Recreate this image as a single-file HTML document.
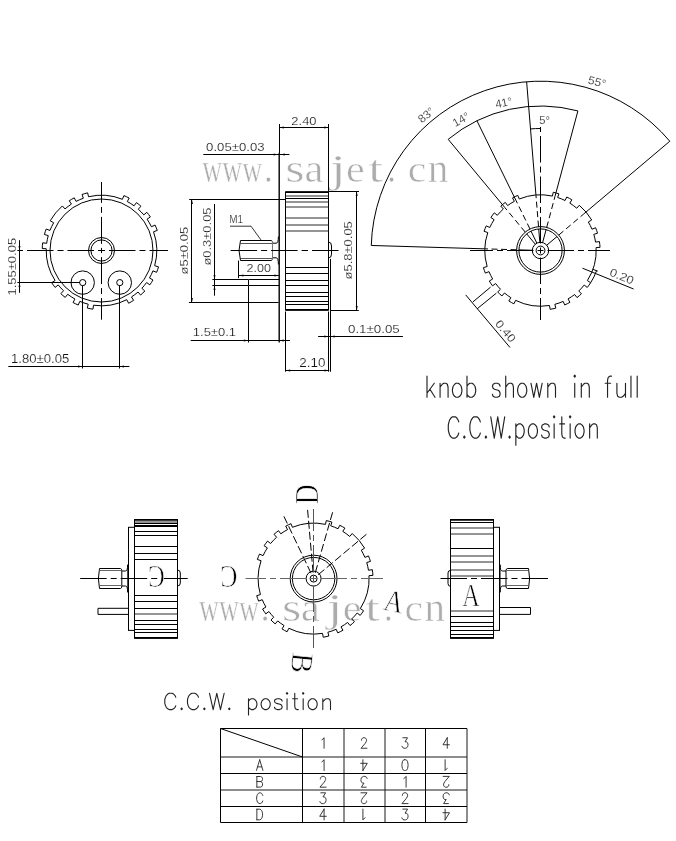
<!DOCTYPE html>
<html><head><meta charset="utf-8"><style>
html,body{margin:0;padding:0;background:#fff;}
svg{display:block;filter:grayscale(100%);}
</style></head><body>
<svg width="676" height="841" viewBox="0 0 676 841">
<rect width="676" height="841" fill="#fff"/>
<text transform="translate(202.30,181.60) scale(0.712,1)" x="0" y="0" font-family="Liberation Serif, serif" font-size="39" fill="#acacac" stroke="#fff" stroke-width="0.55">w</text>
<text transform="translate(222.30,181.60) scale(0.712,1)" x="0" y="0" font-family="Liberation Serif, serif" font-size="39" fill="#acacac" stroke="#fff" stroke-width="0.55">w</text>
<text transform="translate(242.30,181.60) scale(0.709,1)" x="0" y="0" font-family="Liberation Serif, serif" font-size="39" fill="#acacac" stroke="#fff" stroke-width="0.55">w</text>
<text transform="translate(263.82,181.60) scale(0.940,1)" x="0" y="0" font-family="Liberation Serif, serif" font-size="39" fill="#acacac" stroke="#fff" stroke-width="0.55">.</text>
<text transform="translate(285.22,181.60) scale(1.270,1)" x="0" y="0" font-family="Liberation Serif, serif" font-size="39" fill="#acacac" stroke="#fff" stroke-width="0.55">s</text>
<text transform="translate(304.41,181.60) scale(1.091,1)" x="0" y="0" font-family="Liberation Serif, serif" font-size="39" fill="#acacac" stroke="#fff" stroke-width="0.55">a</text>
<text transform="translate(330.05,181.60) scale(1.492,1)" x="0" y="0" font-family="Liberation Serif, serif" font-size="39" fill="#acacac" stroke="#fff" stroke-width="0.55">j</text>
<text transform="translate(346.01,181.60) scale(1.081,1)" x="0" y="0" font-family="Liberation Serif, serif" font-size="39" fill="#acacac" stroke="#fff" stroke-width="0.55">e</text>
<text transform="translate(368.27,181.60) scale(1.371,1)" x="0" y="0" font-family="Liberation Serif, serif" font-size="39" fill="#acacac" stroke="#fff" stroke-width="0.55">t</text>
<text transform="translate(387.02,181.60) scale(0.940,1)" x="0" y="0" font-family="Liberation Serif, serif" font-size="39" fill="#acacac" stroke="#fff" stroke-width="0.55">.</text>
<text transform="translate(407.74,181.60) scale(1.067,1)" x="0" y="0" font-family="Liberation Serif, serif" font-size="39" fill="#acacac" stroke="#fff" stroke-width="0.55">c</text>
<text transform="translate(427.77,181.60) scale(1.054,1)" x="0" y="0" font-family="Liberation Serif, serif" font-size="39" fill="#acacac" stroke="#fff" stroke-width="0.55">n</text>
<text transform="translate(199.00,620.50) scale(0.712,1)" x="0" y="0" font-family="Liberation Serif, serif" font-size="39" fill="#acacac" stroke="#fff" stroke-width="0.55">w</text>
<text transform="translate(219.00,620.50) scale(0.712,1)" x="0" y="0" font-family="Liberation Serif, serif" font-size="39" fill="#acacac" stroke="#fff" stroke-width="0.55">w</text>
<text transform="translate(239.00,620.50) scale(0.709,1)" x="0" y="0" font-family="Liberation Serif, serif" font-size="39" fill="#acacac" stroke="#fff" stroke-width="0.55">w</text>
<text transform="translate(260.52,620.50) scale(0.940,1)" x="0" y="0" font-family="Liberation Serif, serif" font-size="39" fill="#acacac" stroke="#fff" stroke-width="0.55">.</text>
<text transform="translate(281.92,620.50) scale(1.270,1)" x="0" y="0" font-family="Liberation Serif, serif" font-size="39" fill="#acacac" stroke="#fff" stroke-width="0.55">s</text>
<text transform="translate(301.11,620.50) scale(1.091,1)" x="0" y="0" font-family="Liberation Serif, serif" font-size="39" fill="#acacac" stroke="#fff" stroke-width="0.55">a</text>
<text transform="translate(326.75,620.50) scale(1.492,1)" x="0" y="0" font-family="Liberation Serif, serif" font-size="39" fill="#acacac" stroke="#fff" stroke-width="0.55">j</text>
<text transform="translate(342.71,620.50) scale(1.081,1)" x="0" y="0" font-family="Liberation Serif, serif" font-size="39" fill="#acacac" stroke="#fff" stroke-width="0.55">e</text>
<text transform="translate(364.97,620.50) scale(1.371,1)" x="0" y="0" font-family="Liberation Serif, serif" font-size="39" fill="#acacac" stroke="#fff" stroke-width="0.55">t</text>
<text transform="translate(383.72,620.50) scale(0.940,1)" x="0" y="0" font-family="Liberation Serif, serif" font-size="39" fill="#acacac" stroke="#fff" stroke-width="0.55">.</text>
<text transform="translate(404.44,620.50) scale(1.067,1)" x="0" y="0" font-family="Liberation Serif, serif" font-size="39" fill="#acacac" stroke="#fff" stroke-width="0.55">c</text>
<text transform="translate(424.47,620.50) scale(1.054,1)" x="0" y="0" font-family="Liberation Serif, serif" font-size="39" fill="#acacac" stroke="#fff" stroke-width="0.55">n</text>
<path d="M154.66,265.74 L158.50,266.85 A59.30,59.30 0 0 1 156.64,272.33 L152.92,270.86 A55.30,55.30 0 0 1 149.49,277.98 L152.96,279.97 A59.30,59.30 0 0 1 149.84,284.85 L146.58,282.53 A55.30,55.30 0 0 1 141.88,288.29 L144.80,291.02 A59.30,59.30 0 0 1 140.64,295.05 L138.00,292.04 A55.30,55.30 0 0 1 131.46,296.98 L133.62,300.35 A59.30,59.30 0 0 1 128.61,303.24 L126.78,299.68 A55.30,55.30 0 0 1 93.52,305.22 L92.94,309.18 A59.30,59.30 0 0 1 87.25,308.06 L88.22,304.18 A55.30,55.30 0 0 1 79.80,301.37 L78.23,305.05 A59.30,59.30 0 0 1 73.02,302.51 L74.94,299.01 A55.30,55.30 0 0 1 67.68,294.25 L65.24,297.42 A59.30,59.30 0 0 1 60.83,293.66 L63.57,290.75 A55.30,55.30 0 0 1 58.22,284.93 L55.09,287.42 A59.30,59.30 0 0 1 51.71,282.71 L55.07,280.54 A55.30,55.30 0 0 1 46.23,248.71 L42.23,248.59 A59.30,59.30 0 0 1 42.70,242.81 L46.67,243.33 A55.30,55.30 0 0 1 48.25,235.58 L44.40,234.50 A59.30,59.30 0 0 1 46.23,229.01 L49.96,230.46 A55.30,55.30 0 0 1 53.66,222.77 L50.20,220.76 A59.30,59.30 0 0 1 62.36,205.95 L65.00,208.96 A55.30,55.30 0 0 1 71.42,204.10 L69.25,200.74 A59.30,59.30 0 0 1 74.26,197.83 L76.09,201.38 A55.30,55.30 0 0 1 83.36,198.26 L82.05,194.48 A59.30,59.30 0 0 1 87.61,192.85 L88.54,196.74 A55.30,55.30 0 0 1 122.39,199.30 L123.91,195.60 A59.30,59.30 0 0 1 129.16,198.04 L127.29,201.58 A55.30,55.30 0 0 1 134.08,205.82 L136.44,202.59 A59.30,59.30 0 0 1 140.95,206.22 L138.29,209.21 A55.30,55.30 0 0 1 143.80,214.88 L146.86,212.30 A59.30,59.30 0 0 1 150.37,216.91 L147.07,219.18 A55.30,55.30 0 0 1 151.45,226.78 L155.07,225.06 A59.30,59.30 0 0 1 157.29,230.41 L153.53,231.77 A55.30,55.30 0 0 1 154.66,265.74" fill="none" stroke="#000" stroke-width="1" stroke-linejoin="miter"/>
<circle cx="101.50" cy="250.50" r="51.50" fill="none" stroke="#000" stroke-width="1" />
<circle cx="101.50" cy="250.50" r="13.00" fill="none" stroke="#000" stroke-width="1" />
<circle cx="101.50" cy="250.50" r="10.60" fill="none" stroke="#000" stroke-width="1" />
<circle cx="82.70" cy="282.60" r="11.70" fill="none" stroke="#000" stroke-width="1" />
<circle cx="82.70" cy="282.60" r="3.10" fill="none" stroke="#000" stroke-width="1" />
<circle cx="119.80" cy="282.60" r="11.70" fill="none" stroke="#000" stroke-width="1" />
<circle cx="119.80" cy="282.60" r="3.10" fill="none" stroke="#000" stroke-width="1" />
<path d="M98.00,250.50 L105.00,250.50 M109.00,250.50 L135.50,250.50 M139.50,250.50 L145.50,250.50 M149.50,250.50 L168.00,250.50 M67.50,250.50 L94.00,250.50 M57.50,250.50 L63.50,250.50 M27.00,250.50 L53.50,250.50 M17.40,250.50 L23.00,250.50" fill="none" stroke="#000" stroke-width="1"/>
<path d="M101.50,247.90 L101.50,253.10 M101.50,257.10 L101.50,284.10 M101.50,288.10 L101.50,294.10 M101.50,298.10 L101.50,319.70 M101.50,216.90 L101.50,243.90 M101.50,206.90 L101.50,212.90 M101.50,182.00 L101.50,202.90" fill="none" stroke="#000" stroke-width="1"/>
<line x1="17.40" y1="282.50" x2="80.00" y2="282.50" stroke="#000" stroke-width="1" />
<line x1="82.50" y1="285.50" x2="82.50" y2="368.50" stroke="#000" stroke-width="1" />
<line x1="119.50" y1="285.50" x2="119.50" y2="368.50" stroke="#000" stroke-width="1" />
<line x1="19.50" y1="240.20" x2="19.50" y2="292.80" stroke="#000" stroke-width="1" />
<text transform="translate(16.10,294.60) rotate(-90)" x="-0.97" y="0" font-family="Liberation Sans, sans-serif" font-size="11.71" fill="#111" stroke="#fff" stroke-width="0.18" textLength="57.71" lengthAdjust="spacingAndGlyphs">1.55±0.05</text>
<line x1="8.30" y1="366.50" x2="129.40" y2="366.50" stroke="#000" stroke-width="1" />
<text transform="translate(12.00,362.50) rotate(0)" x="-0.98" y="0" font-family="Liberation Sans, sans-serif" font-size="11.86" fill="#111" stroke="#fff" stroke-width="0.18" textLength="58.23" lengthAdjust="spacingAndGlyphs">1.80±0.05</text>
<line x1="279.20" y1="152.70" x2="279.20" y2="342.50" stroke="#000" stroke-width="1.4" />
<rect x="285.5" y="192" width="43" height="118" fill="none" stroke="#000" stroke-width="1"/>
<line x1="285.50" y1="192.20" x2="328.50" y2="192.20" stroke="#000" stroke-width="1.8" />
<line x1="285.50" y1="309.80" x2="328.50" y2="309.80" stroke="#000" stroke-width="1.8" />
<line x1="285.50" y1="196" x2="328.50" y2="196" stroke="#2a2a2a" stroke-width="1"/>
<line x1="285.50" y1="198.50" x2="328.50" y2="198.50" stroke="#000" stroke-width="1" />
<line x1="285.50" y1="202" x2="328.50" y2="202" stroke="#2a2a2a" stroke-width="1"/>
<line x1="285.50" y1="207" x2="328.50" y2="207" stroke="#2a2a2a" stroke-width="1"/>
<line x1="285.50" y1="218" x2="328.50" y2="218" stroke="#2a2a2a" stroke-width="1"/>
<line x1="285.50" y1="225" x2="328.50" y2="225" stroke="#2a2a2a" stroke-width="1"/>
<line x1="285.50" y1="231" x2="328.50" y2="231" stroke="#2a2a2a" stroke-width="1"/>
<line x1="285.50" y1="267.50" x2="328.50" y2="267.50" stroke="#000" stroke-width="1" />
<line x1="285.50" y1="273.50" x2="328.50" y2="273.50" stroke="#000" stroke-width="1" />
<line x1="285.50" y1="280.50" x2="328.50" y2="280.50" stroke="#000" stroke-width="1" />
<line x1="285.50" y1="285.50" x2="328.50" y2="285.50" stroke="#000" stroke-width="1" />
<line x1="285.50" y1="292.50" x2="328.50" y2="292.50" stroke="#000" stroke-width="1" />
<line x1="285.50" y1="296.50" x2="328.50" y2="296.50" stroke="#000" stroke-width="1" />
<line x1="285.50" y1="301.50" x2="328.50" y2="301.50" stroke="#000" stroke-width="1" />
<line x1="285.50" y1="304.50" x2="328.50" y2="304.50" stroke="#000" stroke-width="1" />
<path d="M328.5,242 Q331.5,242 331.5,246 L331.5,254 Q331.5,258 328.5,258" fill="none" stroke="#000" stroke-width="1"/>
<path d="M240.5,240.5 L271.3,240.5 Q272.6,240.5 272.6,243.2 M240.5,260.5 L271.3,260.5 Q272.6,260.5 272.6,257.8" fill="none" stroke="#000" stroke-width="1"/>
<line x1="240.50" y1="243.50" x2="273.00" y2="243.50" stroke="#555" stroke-width="1" />
<line x1="240.50" y1="258.50" x2="273.00" y2="258.50" stroke="#555" stroke-width="1" />
<path d="M240.5,240.5 Q237.5,250.5 240.5,260.5" fill="none" stroke="#000" stroke-width="1"/>
<path d="M272.5,243.2 L276.2,243.2 Q278.4,243.2 278.4,236.5 M272.5,257.8 L276.2,257.8 Q278.4,257.8 278.4,264.5" fill="none" stroke="#000" stroke-width="1"/>
<line x1="272.50" y1="241.00" x2="272.50" y2="260.00" stroke="#777" stroke-width="1" />
<path d="M279,279.5 L248.5,279.5 L248.5,285.5 L279,285.5" fill="none" stroke="#000" stroke-width="1"/>
<path d="M301.60,250.50 L308.00,250.50 M312.00,250.50 L338.50,250.50 M271.10,250.50 L297.60,250.50 M261.10,250.50 L267.10,250.50 M230.60,250.50 L257.10,250.50" fill="none" stroke="#000" stroke-width="1"/>
<line x1="279.50" y1="124.00" x2="279.50" y2="153.00" stroke="#000" stroke-width="1" />
<line x1="328.50" y1="124.00" x2="328.50" y2="191.50" stroke="#000" stroke-width="1" />
<line x1="279.40" y1="127.50" x2="328.70" y2="127.50" stroke="#000" stroke-width="1" />
<text transform="translate(292.00,125.00) rotate(0)" x="-0.65" y="0" font-family="Liberation Sans, sans-serif" font-size="11.14" fill="#111" stroke="#fff" stroke-width="0.18" textLength="25.18" lengthAdjust="spacingAndGlyphs">2.40</text>
<line x1="203.30" y1="154.50" x2="289.40" y2="154.50" stroke="#000" stroke-width="1" />
<text transform="translate(206.60,150.90) rotate(0)" x="-0.53" y="0" font-family="Liberation Sans, sans-serif" font-size="11.71" fill="#111" stroke="#fff" stroke-width="0.18" textLength="58.44" lengthAdjust="spacingAndGlyphs">0.05±0.03</text>
<line x1="189.20" y1="199.50" x2="285.00" y2="199.50" stroke="#000" stroke-width="1" />
<line x1="188.90" y1="302.50" x2="278.50" y2="302.50" stroke="#000" stroke-width="1" />
<line x1="191.50" y1="199.50" x2="191.50" y2="302.50" stroke="#000" stroke-width="1" />
<text transform="translate(188.20,274.20) rotate(-90)" x="-0.33" y="0" font-family="Liberation Sans, sans-serif" font-size="11.43" fill="#111" stroke="#fff" stroke-width="0.18" textLength="47.67" lengthAdjust="spacingAndGlyphs">ø5±0.05</text>
<line x1="212.40" y1="279.50" x2="248.00" y2="279.50" stroke="#000" stroke-width="1" />
<line x1="212.40" y1="285.50" x2="248.00" y2="285.50" stroke="#000" stroke-width="1" />
<line x1="214.50" y1="204.00" x2="214.50" y2="295.70" stroke="#000" stroke-width="1" />
<text transform="translate(211.20,265.30) rotate(-90)" x="-0.32" y="0" font-family="Liberation Sans, sans-serif" font-size="11.71" fill="#111" stroke="#fff" stroke-width="0.18" textLength="58.16" lengthAdjust="spacingAndGlyphs">ø0.3±0.05</text>
<text transform="translate(230.00,222.80) rotate(0)" x="-0.79" y="0" font-family="Liberation Sans, sans-serif" font-size="10.43" fill="#111" stroke="#fff" stroke-width="0.18" textLength="13.78" lengthAdjust="spacingAndGlyphs">M1</text>
<path d="M230,226.2 L251,226.2 L261,240" fill="none" stroke="#000" stroke-width="0.8"/>
<line x1="238.90" y1="275.50" x2="278.80" y2="275.50" stroke="#000" stroke-width="1" />
<line x1="238.50" y1="260.50" x2="238.50" y2="278.20" stroke="#000" stroke-width="1" />
<text transform="translate(247.20,272.10) rotate(0)" x="-0.63" y="0" font-family="Liberation Sans, sans-serif" font-size="11.00" fill="#111" stroke="#fff" stroke-width="0.18" textLength="24.45" lengthAdjust="spacingAndGlyphs">2.00</text>
<line x1="190.70" y1="340.50" x2="290.00" y2="340.50" stroke="#000" stroke-width="1" />
<line x1="248.50" y1="285.70" x2="248.50" y2="342.50" stroke="#000" stroke-width="1" />
<text transform="translate(193.80,336.30) rotate(0)" x="-0.97" y="0" font-family="Liberation Sans, sans-serif" font-size="11.43" fill="#111" stroke="#fff" stroke-width="0.18" textLength="43.21" lengthAdjust="spacingAndGlyphs">1.5±0.1</text>
<line x1="328.50" y1="191.50" x2="359.00" y2="191.50" stroke="#000" stroke-width="1" />
<line x1="330.50" y1="310.50" x2="358.80" y2="310.50" stroke="#000" stroke-width="1" />
<line x1="356.50" y1="191.50" x2="356.50" y2="310.00" stroke="#000" stroke-width="1" />
<text transform="translate(352.40,279.20) rotate(-90)" x="-0.32" y="0" font-family="Liberation Sans, sans-serif" font-size="11.57" fill="#111" stroke="#fff" stroke-width="0.18" textLength="58.36" lengthAdjust="spacingAndGlyphs">ø5.8±0.05</text>
<line x1="330.50" y1="258.90" x2="330.50" y2="371.70" stroke="#000" stroke-width="1" />
<line x1="318.10" y1="336.50" x2="402.90" y2="336.50" stroke="#000" stroke-width="1" />
<text transform="translate(348.50,332.90) rotate(0)" x="-0.53" y="0" font-family="Liberation Sans, sans-serif" font-size="11.57" fill="#111" stroke="#fff" stroke-width="0.18" textLength="51.77" lengthAdjust="spacingAndGlyphs">0.1±0.05</text>
<line x1="285.50" y1="311.50" x2="285.50" y2="371.70" stroke="#000" stroke-width="1" />
<line x1="328.50" y1="311.50" x2="328.50" y2="371.70" stroke="#000" stroke-width="1" />
<line x1="285.70" y1="370.50" x2="329.30" y2="370.50" stroke="#000" stroke-width="1" />
<text transform="translate(300.00,366.90) rotate(0)" x="-0.67" y="0" font-family="Liberation Sans, sans-serif" font-size="11.86" fill="#111" stroke="#fff" stroke-width="0.18" textLength="26.23" lengthAdjust="spacingAndGlyphs">2.10</text>
<path d="M587.37,280.59 L590.65,282.70 A59.60,59.60 0 0 1 587.27,287.44 L584.21,285.02 A55.70,55.70 0 0 1 578.77,290.97 L581.45,293.80 A59.60,59.60 0 0 1 577.03,297.59 L574.64,294.51 A55.70,55.70 0 0 1 568.01,298.93 L569.94,302.32 A59.60,59.60 0 0 1 564.74,304.95 L563.16,301.38 A55.70,55.70 0 0 1 554.82,304.33 L555.83,308.10 A59.60,59.60 0 0 1 550.13,309.32 L549.50,305.47 A55.70,55.70 0 0 1 515.65,300.35 L513.91,303.84 A59.60,59.60 0 0 1 508.83,300.99 L510.90,297.68 A55.70,55.70 0 0 1 504.47,292.98 L501.95,295.96 A59.60,59.60 0 0 1 497.70,291.98 L500.50,289.26 A55.70,55.70 0 0 1 495.67,283.55 L492.53,285.87 A59.60,59.60 0 0 1 489.31,281.02 L492.66,279.02 A55.70,55.70 0 0 1 488.97,271.64 L485.36,273.12 A59.60,59.60 0 0 1 483.41,267.63 L487.15,266.51 A55.70,55.70 0 0 1 487.77,232.55 L484.08,231.29 A59.60,59.60 0 0 1 486.22,225.88 L489.77,227.49 A55.70,55.70 0 0 1 494.11,219.68 L490.86,217.52 A59.60,59.60 0 0 1 494.31,212.83 L497.34,215.30 A55.70,55.70 0 0 1 503.37,208.98 L500.77,206.07 A59.60,59.60 0 0 1 505.30,202.41 L507.60,205.55 A55.70,55.70 0 0 1 514.35,201.32 L512.52,197.88 A59.60,59.60 0 0 1 517.79,195.40 L519.27,199.00 A55.70,55.70 0 0 1 552.41,196.09 L553.25,192.28 A59.60,59.60 0 0 1 558.87,193.80 L557.67,197.51 A55.70,55.70 0 0 1 565.05,200.50 L566.77,197.00 A59.60,59.60 0 0 1 571.86,199.82 L569.81,203.14 A55.70,55.70 0 0 1 576.75,208.21 L579.29,205.25 A59.60,59.60 0 0 1 591.69,219.98 L588.34,221.98 A55.70,55.70 0 0 1 591.98,229.23 L595.58,227.74 A59.60,59.60 0 0 1 597.54,233.22 L593.81,234.35 A55.70,55.70 0 0 1 595.57,242.12 L599.42,241.54 A59.60,59.60 0 0 1 600.02,247.33 L596.12,247.54 A55.70,55.70 0 0 1 587.37,280.59" fill="none" stroke="#000" stroke-width="1" stroke-linejoin="miter"/>
<path d="M596.58,270.69 A59.60,59.60 0 0 1 590.65,282.70" fill="none" stroke="#000" stroke-width="1"/>
<line x1="592.91" y1="269.37" x2="597.71" y2="271.10" stroke="#000" stroke-width="1" />
<circle cx="540.50" cy="250.50" r="23.90" fill="none" stroke="#000" stroke-width="1" />
<circle cx="540.50" cy="250.50" r="21.60" fill="none" stroke="#000" stroke-width="1" />
<circle cx="540.50" cy="250.50" r="8.20" fill="none" stroke="#000" stroke-width="1" />
<circle cx="540.50" cy="250.50" r="4.40" fill="none" stroke="#000" stroke-width="1" />
<path d="M371.27,245.48 A169.30,169.30 0 0 1 669.81,141.22" fill="none" stroke="#000" stroke-width="1"/>
<path d="M448.20,139.32 A144.50,144.50 0 0 1 577.90,110.92" fill="none" stroke="#000" stroke-width="1"/>
<path d="M530.50,128.91 A122.00,122.00 0 0 1 540.50,128.50" fill="none" stroke="#000" stroke-width="1"/>
<line x1="484.52" y1="248.84" x2="371.27" y2="245.48" stroke="#000" stroke-width="1" />
<line x1="516.51" y1="249.79" x2="484.52" y2="248.84" stroke="#000" stroke-width="1" stroke-dasharray="6 3.5"/>
<line x1="532.30" y1="250.26" x2="518.91" y2="249.86" stroke="#000" stroke-width="1" />
<line x1="535.91" y1="194.69" x2="526.63" y2="81.77" stroke="#000" stroke-width="1" />
<line x1="538.53" y1="226.58" x2="535.91" y2="194.69" stroke="#000" stroke-width="1" stroke-dasharray="6 3.5"/>
<line x1="539.83" y1="242.33" x2="538.73" y2="228.97" stroke="#000" stroke-width="1" />
<line x1="583.27" y1="214.35" x2="669.81" y2="141.22" stroke="#000" stroke-width="1" />
<line x1="558.83" y1="235.01" x2="583.27" y2="214.35" stroke="#000" stroke-width="1" stroke-dasharray="6 3.5"/>
<line x1="546.76" y1="245.21" x2="557.00" y2="236.56" stroke="#000" stroke-width="1" />
<line x1="504.73" y1="207.41" x2="448.20" y2="139.32" stroke="#000" stroke-width="1" />
<line x1="525.17" y1="232.03" x2="504.73" y2="207.41" stroke="#000" stroke-width="1" stroke-dasharray="6 3.5"/>
<line x1="535.26" y1="244.19" x2="526.70" y2="233.88" stroke="#000" stroke-width="1" />
<line x1="515.86" y1="200.21" x2="476.93" y2="120.74" stroke="#000" stroke-width="1" />
<line x1="529.94" y1="228.95" x2="515.86" y2="200.21" stroke="#000" stroke-width="1" stroke-dasharray="6 3.5"/>
<line x1="536.89" y1="243.14" x2="531.00" y2="231.10" stroke="#000" stroke-width="1" />
<line x1="554.99" y1="196.41" x2="577.90" y2="110.92" stroke="#000" stroke-width="1" />
<line x1="546.71" y1="227.32" x2="554.99" y2="196.41" stroke="#000" stroke-width="1" stroke-dasharray="6 3.5"/>
<line x1="542.62" y1="242.58" x2="546.09" y2="229.64" stroke="#000" stroke-width="1" />
<path d="M540.50,247.50 L540.50,253.50 M540.50,257.50 L540.50,284.00 M540.50,288.00 L540.50,294.00 M540.50,298.00 L540.50,320.00 M540.50,217.00 L540.50,243.50 M540.50,207.00 L540.50,213.00 M540.50,176.50 L540.50,203.00 M540.50,166.50 L540.50,172.50 M540.50,136.00 L540.50,162.50 M540.50,127.00 L540.50,132.00" fill="none" stroke="#000" stroke-width="1"/>
<path d="M537.50,250.50 L543.50,250.50 M547.50,250.50 L574.00,250.50 M578.00,250.50 L584.00,250.50 M588.00,250.50 L610.00,250.50 M507.00,250.50 L533.50,250.50 M497.00,250.50 L503.00,250.50 M470.00,250.50 L493.00,250.50" fill="none" stroke="#000" stroke-width="1"/>
<line x1="582.50" y1="268.20" x2="633.60" y2="289.00" stroke="#000" stroke-width="1" />
<text transform="translate(621.80,276.30) rotate(22) translate(0,4.00)" x="-12.51" y="0" font-family="Liberation Sans, sans-serif" font-size="11.43" fill="#111" stroke="#fff" stroke-width="0.18" textLength="25.05" lengthAdjust="spacingAndGlyphs">0.20</text>
<line x1="490.50" y1="287.20" x2="472.80" y2="302.00" stroke="#000" stroke-width="1" />
<line x1="496.40" y1="293.10" x2="476.90" y2="309.00" stroke="#000" stroke-width="1" />
<line x1="465.70" y1="294.90" x2="510.00" y2="347.50" stroke="#000" stroke-width="1" />
<text transform="translate(505.60,331.00) rotate(50) translate(0,4.00)" x="-12.51" y="0" font-family="Liberation Sans, sans-serif" font-size="11.43" fill="#111" stroke="#fff" stroke-width="0.18" textLength="25.05" lengthAdjust="spacingAndGlyphs">0.40</text>
<text transform="translate(426.00,115.00) rotate(-40) translate(0,4.00)" x="-8.51" y="0" font-family="Liberation Sans, sans-serif" font-size="11.43" fill="#111" stroke="#fff" stroke-width="0.18" textLength="17.22" lengthAdjust="spacingAndGlyphs">83°</text>
<text transform="translate(461.00,119.40) rotate(-30) translate(0,4.00)" x="-8.87" y="0" font-family="Liberation Sans, sans-serif" font-size="11.43" fill="#111" stroke="#fff" stroke-width="0.18" textLength="17.60" lengthAdjust="spacingAndGlyphs">14°</text>
<text transform="translate(503.50,102.70) rotate(-12) translate(0,4.00)" x="-8.28" y="0" font-family="Liberation Sans, sans-serif" font-size="11.43" fill="#111" stroke="#fff" stroke-width="0.18" textLength="16.98" lengthAdjust="spacingAndGlyphs">41°</text>
<text transform="translate(544.50,120.00) rotate(0) translate(0,4.00)" x="-5.19" y="0" font-family="Liberation Sans, sans-serif" font-size="11.43" fill="#111" stroke="#fff" stroke-width="0.18" textLength="10.62" lengthAdjust="spacingAndGlyphs">5°</text>
<text transform="translate(597.00,81.80) rotate(15) translate(0,4.00)" x="-8.98" y="0" font-family="Liberation Sans, sans-serif" font-size="11.43" fill="#111" stroke="#fff" stroke-width="0.18" textLength="18.23" lengthAdjust="spacingAndGlyphs">55°</text>
<path transform="translate(427.00,397.30) rotate(0)" d="M0.00,-21.10 L0.00,0.00 M7.27,-14.07 L0.00,-4.02 M2.91,-8.04 L8.00,0.00 M13.08,-14.07 L13.08,0.00 M13.08,-10.05 L15.26,-13.06 L16.72,-14.07 L18.90,-14.07 L20.35,-13.06 L21.08,-10.05 L21.08,0.00 M29.07,-14.07 L27.62,-13.06 L26.17,-11.05 L25.44,-8.04 L25.44,-6.03 L26.17,-3.01 L27.62,-1.00 L29.07,0.00 L31.26,0.00 L32.71,-1.00 L34.16,-3.01 L34.89,-6.03 L34.89,-8.04 L34.16,-11.05 L32.71,-13.06 L31.26,-14.07 L29.07,-14.07 M39.98,-21.10 L39.98,0.00 M39.98,-11.05 L41.43,-13.06 L42.89,-14.07 L45.07,-14.07 L46.52,-13.06 L47.97,-11.05 L48.70,-8.04 L48.70,-6.03 L47.97,-3.01 L46.52,-1.00 L45.07,0.00 L42.89,0.00 L41.43,-1.00 L39.98,-3.01" fill="none" stroke="#222" stroke-width="1.15" stroke-linecap="round" stroke-linejoin="round"/>
<path transform="translate(492.40,397.30) rotate(0)" d="M7.71,-11.05 L7.01,-13.06 L4.91,-14.07 L2.80,-14.07 L0.70,-13.06 L0.00,-11.05 L0.70,-9.04 L2.10,-8.04 L5.61,-7.03 L7.01,-6.03 L7.71,-4.02 L7.71,-3.01 L7.01,-1.00 L4.91,0.00 L2.80,0.00 L0.70,-1.00 L0.00,-3.01 M13.32,-21.10 L13.32,0.00 M13.32,-10.05 L15.42,-13.06 L16.83,-14.07 L18.93,-14.07 L20.33,-13.06 L21.03,-10.05 L21.03,0.00 M28.75,-14.07 L27.34,-13.06 L25.94,-11.05 L25.24,-8.04 L25.24,-6.03 L25.94,-3.01 L27.34,-1.00 L28.75,0.00 L30.85,0.00 L32.25,-1.00 L33.65,-3.01 L34.35,-6.03 L34.35,-8.04 L33.65,-11.05 L32.25,-13.06 L30.85,-14.07 L28.75,-14.07 M38.56,-14.07 L41.37,0.00 M44.17,-14.07 L41.37,0.00 M44.17,-14.07 L46.97,0.00 M49.78,-14.07 L46.97,0.00 M55.39,-14.07 L55.39,0.00 M55.39,-10.05 L57.49,-13.06 L58.89,-14.07 L61.00,-14.07 L62.40,-13.06 L63.10,-10.05 L63.10,0.00" fill="none" stroke="#222" stroke-width="1.15" stroke-linecap="round" stroke-linejoin="round"/>
<path transform="translate(574.00,397.30) rotate(0)" d="M0.00,-21.10 L0.73,-20.10 L1.46,-21.10 L0.73,-22.10 L0.00,-21.10 M0.73,-14.07 L0.73,0.00 M7.29,-14.07 L7.29,0.00 M7.29,-10.05 L9.47,-13.06 L10.93,-14.07 L13.11,-14.07 L14.57,-13.06 L15.30,-10.05 L15.30,0.00" fill="none" stroke="#222" stroke-width="1.15" stroke-linecap="round" stroke-linejoin="round"/>
<path transform="translate(605.20,397.30) rotate(0)" d="M6.24,-21.10 L4.68,-21.10 L3.12,-20.10 L2.34,-17.08 L2.34,0.00 M0.00,-14.07 L5.46,-14.07 M11.71,-14.07 L11.71,-4.02 L12.49,-1.00 L14.05,0.00 L16.39,0.00 L17.95,-1.00 L20.29,-4.02 M20.29,-14.07 L20.29,0.00 M25.76,-21.10 L25.76,0.00 M32.00,-21.10 L32.00,0.00" fill="none" stroke="#222" stroke-width="1.15" stroke-linecap="round" stroke-linejoin="round"/>
<path transform="translate(448.30,438.10) rotate(0)" d="M10.44,-16.23 L9.75,-18.26 L8.36,-20.29 L6.96,-21.30 L4.18,-21.30 L2.79,-20.29 L1.39,-18.26 L0.70,-16.23 L0.00,-13.19 L0.00,-8.11 L0.70,-5.07 L1.39,-3.04 L2.79,-1.01 L4.18,0.00 L6.96,0.00 L8.36,-1.01 L9.75,-3.04 L10.44,-5.07 M16.01,-2.03 L15.32,-1.01 L16.01,0.00 L16.71,-1.01 L16.01,-2.03 M32.03,-16.23 L31.33,-18.26 L29.94,-20.29 L28.55,-21.30 L25.76,-21.30 L24.37,-20.29 L22.98,-18.26 L22.28,-16.23 L21.58,-13.19 L21.58,-8.11 L22.28,-5.07 L22.98,-3.04 L24.37,-1.01 L25.76,0.00 L28.55,0.00 L29.94,-1.01 L31.33,-3.04 L32.03,-5.07 M37.60,-2.03 L36.90,-1.01 L37.60,0.00 L38.29,-1.01 L37.60,-2.03 M42.47,-21.30 L45.95,0.00 M49.43,-21.30 L45.95,0.00 M49.43,-21.30 L52.92,0.00 M56.40,-21.30 L52.92,0.00 M61.27,-2.03 L60.57,-1.01 L61.27,0.00 L61.97,-1.01 L61.27,-2.03 M67.54,-14.20 L67.54,7.10 M67.54,-11.16 L68.93,-13.19 L70.32,-14.20 L72.41,-14.20 L73.80,-13.19 L75.20,-11.16 L75.89,-8.11 L75.89,-6.09 L75.20,-3.04 L73.80,-1.01 L72.41,0.00 L70.32,0.00 L68.93,-1.01 L67.54,-3.04 M83.55,-14.20 L82.16,-13.19 L80.77,-11.16 L80.07,-8.11 L80.07,-6.09 L80.77,-3.04 L82.16,-1.01 L83.55,0.00 L85.64,0.00 L87.03,-1.01 L88.43,-3.04 L89.12,-6.09 L89.12,-8.11 L88.43,-11.16 L87.03,-13.19 L85.64,-14.20 L83.55,-14.20 M100.96,-11.16 L100.26,-13.19 L98.17,-14.20 L96.08,-14.20 L94.00,-13.19 L93.30,-11.16 L94.00,-9.13 L95.39,-8.11 L98.87,-7.10 L100.26,-6.09 L100.96,-4.06 L100.96,-3.04 L100.26,-1.01 L98.17,0.00 L96.08,0.00 L94.00,-1.01 L93.30,-3.04 M105.14,-21.30 L105.83,-20.29 L106.53,-21.30 L105.83,-22.31 L105.14,-21.30 M105.83,-14.20 L105.83,0.00 M113.49,-21.30 L113.49,-4.06 L114.19,-1.01 L115.58,0.00 L116.97,0.00 M111.40,-14.20 L116.28,-14.20 M121.15,-21.30 L121.85,-20.29 L122.54,-21.30 L121.85,-22.31 L121.15,-21.30 M121.85,-14.20 L121.85,0.00 M130.20,-14.20 L128.81,-13.19 L127.42,-11.16 L126.72,-8.11 L126.72,-6.09 L127.42,-3.04 L128.81,-1.01 L130.20,0.00 L132.29,0.00 L133.68,-1.01 L135.07,-3.04 L135.77,-6.09 L135.77,-8.11 L135.07,-11.16 L133.68,-13.19 L132.29,-14.20 L130.20,-14.20 M141.34,-14.20 L141.34,0.00 M141.34,-10.14 L143.43,-13.19 L144.82,-14.20 L146.91,-14.20 L148.30,-13.19 L149.00,-10.14 L149.00,0.00" fill="none" stroke="#222" stroke-width="1.15" stroke-linecap="round" stroke-linejoin="round"/>
<path d="M360.30,608.58 L363.59,610.69 A59.40,59.40 0 0 1 360.22,615.41 L357.16,613.00 A55.50,55.50 0 0 1 351.73,618.92 L354.41,621.76 A59.40,59.40 0 0 1 350.01,625.54 L347.62,622.45 A55.50,55.50 0 0 1 341.01,626.86 L342.94,630.25 A59.40,59.40 0 0 1 337.76,632.86 L336.17,629.30 A55.50,55.50 0 0 1 327.87,632.23 L328.87,636.00 A59.40,59.40 0 0 1 323.20,637.22 L322.57,633.37 A55.50,55.50 0 0 1 288.84,628.27 L287.10,631.76 A59.40,59.40 0 0 1 282.03,628.92 L284.11,625.62 A55.50,55.50 0 0 1 277.70,620.93 L275.18,623.90 A59.40,59.40 0 0 1 270.94,619.94 L273.74,617.22 A55.50,55.50 0 0 1 268.93,611.53 L265.79,613.85 A59.40,59.40 0 0 1 262.58,609.02 L265.93,607.02 A55.50,55.50 0 0 1 262.25,599.66 L258.64,601.14 A59.40,59.40 0 0 1 256.71,595.67 L260.44,594.55 A55.50,55.50 0 0 1 261.06,560.71 L257.37,559.46 A59.40,59.40 0 0 1 259.51,554.06 L263.06,555.67 A55.50,55.50 0 0 1 267.37,547.89 L264.12,545.73 A59.40,59.40 0 0 1 267.57,541.06 L270.59,543.52 A55.50,55.50 0 0 1 276.61,537.23 L274.01,534.32 A59.40,59.40 0 0 1 278.52,530.67 L280.82,533.81 A55.50,55.50 0 0 1 287.54,529.60 L285.71,526.15 A59.40,59.40 0 0 1 290.96,523.68 L292.45,527.29 A55.50,55.50 0 0 1 325.47,524.38 L326.30,520.57 A59.40,59.40 0 0 1 331.91,522.09 L330.70,525.80 A55.50,55.50 0 0 1 338.06,528.78 L339.78,525.28 A59.40,59.40 0 0 1 344.86,528.09 L342.80,531.41 A55.50,55.50 0 0 1 349.72,536.46 L352.26,533.50 A59.40,59.40 0 0 1 364.62,548.18 L361.27,550.18 A55.50,55.50 0 0 1 364.89,557.41 L368.50,555.92 A59.40,59.40 0 0 1 370.45,561.38 L366.72,562.51 A55.50,55.50 0 0 1 368.47,570.25 L372.32,569.67 A59.40,59.40 0 0 1 372.92,575.44 L369.02,575.65 A55.50,55.50 0 0 1 360.30,608.58" fill="none" stroke="#000" stroke-width="1" stroke-linejoin="miter"/>
<circle cx="313.60" cy="578.60" r="23.40" fill="none" stroke="#000" stroke-width="1" />
<circle cx="313.60" cy="578.60" r="21.20" fill="none" stroke="#000" stroke-width="1" />
<circle cx="313.60" cy="578.60" r="7.50" fill="none" stroke="#000" stroke-width="1" />
<circle cx="313.60" cy="578.60" r="3.50" fill="none" stroke="#000" stroke-width="1" />
<line x1="311.02" y1="573.18" x2="283.68" y2="515.87" stroke="#000" stroke-width="1" stroke-dasharray="8 3"/>
<line x1="313.08" y1="572.62" x2="307.54" y2="509.36" stroke="#000" stroke-width="1" stroke-dasharray="8 3"/>
<line x1="315.25" y1="572.83" x2="332.76" y2="511.79" stroke="#000" stroke-width="1" stroke-dasharray="8 3"/>
<line x1="318.20" y1="574.74" x2="366.84" y2="533.93" stroke="#000" stroke-width="1" stroke-dasharray="8 3"/>
<path d="M313.50,575.50 L313.50,581.50 M313.50,585.50 L313.50,612.00 M313.50,616.00 L313.50,622.00 M313.50,626.00 L313.50,648.00 M313.50,545.00 L313.50,571.50 M313.50,535.00 L313.50,541.00 M313.50,509.00 L313.50,531.00" fill="none" stroke="#555" stroke-width="1"/>
<path d="M310.50,578.50 L316.50,578.50 M320.50,578.50 L347.00,578.50 M351.00,578.50 L357.00,578.50 M361.00,578.50 L383.00,578.50 M280.00,578.50 L306.50,578.50 M270.00,578.50 L276.00,578.50 M245.50,578.50 L266.00,578.50" fill="none" stroke="#666" stroke-width="1"/>
<rect x="134.50" y="519.50" width="43.00" height="118.70" fill="none" stroke="#000" stroke-width="1"/>
<line x1="134.50" y1="519.90" x2="177.50" y2="519.90" stroke="#000" stroke-width="1.8" />
<line x1="134.50" y1="637.80" x2="177.50" y2="637.80" stroke="#000" stroke-width="1.8" />
<line x1="134.50" y1="522" x2="177.50" y2="522" stroke="#2a2a2a" stroke-width="1"/>
<line x1="134.50" y1="523.50" x2="177.50" y2="523.50" stroke="#000" stroke-width="1" />
<line x1="134.50" y1="525.50" x2="177.50" y2="525.50" stroke="#000" stroke-width="1" />
<line x1="134.50" y1="526.50" x2="177.50" y2="526.50" stroke="#000" stroke-width="1" />
<line x1="134.50" y1="531.50" x2="177.50" y2="531.50" stroke="#000" stroke-width="1" />
<line x1="134.50" y1="535.50" x2="177.50" y2="535.50" stroke="#000" stroke-width="1" />
<line x1="134.50" y1="546.50" x2="177.50" y2="546.50" stroke="#000" stroke-width="1" />
<line x1="134.50" y1="553.50" x2="177.50" y2="553.50" stroke="#000" stroke-width="1" />
<line x1="134.50" y1="559.50" x2="177.50" y2="559.50" stroke="#000" stroke-width="1" />
<line x1="134.50" y1="595.50" x2="177.50" y2="595.50" stroke="#000" stroke-width="1" />
<line x1="134.50" y1="601.50" x2="177.50" y2="601.50" stroke="#000" stroke-width="1" />
<line x1="134.50" y1="608.50" x2="177.50" y2="608.50" stroke="#000" stroke-width="1" />
<line x1="134.50" y1="614" x2="177.50" y2="614" stroke="#2a2a2a" stroke-width="1"/>
<line x1="134.50" y1="620.50" x2="177.50" y2="620.50" stroke="#000" stroke-width="1" />
<line x1="134.50" y1="624.50" x2="177.50" y2="624.50" stroke="#000" stroke-width="1" />
<line x1="134.50" y1="629.50" x2="177.50" y2="629.50" stroke="#000" stroke-width="1" />
<line x1="134.50" y1="632.50" x2="177.50" y2="632.50" stroke="#000" stroke-width="1" />
<rect x="128.50" y="527.3" width="6.00" height="103.1" fill="none" stroke="#000" stroke-width="1"/>
<path d="M99.5,568.5 L120.5,568.5 Q121.8,568.5 121.8,571 L121.8,586 Q121.8,588.5 120.5,588.5 L99.5,588.5 Q97.3,578.5 99.5,568.5" fill="none" stroke="#000" stroke-width="1"/>
<line x1="99.50" y1="570.50" x2="121.80" y2="570.50" stroke="#666" stroke-width="1" />
<line x1="99.50" y1="585.50" x2="121.80" y2="585.50" stroke="#666" stroke-width="1" />
<path d="M121.8,571 L125.5,571 Q127.7,571 127.7,564.5 M121.8,586 L125.5,586 Q127.7,586 127.7,592.5" fill="none" stroke="#000" stroke-width="1"/>
<line x1="127.90" y1="565.00" x2="127.90" y2="592.00" stroke="#000" stroke-width="1.2" />
<path d="M128.5,608.3 L98,608.3 L98,614.4 L128.5,614.4" fill="none" stroke="#000" stroke-width="1"/>
<path d="M177.5,570 Q180.3,570 180.3,573 L180.3,583 Q180.3,586 177.5,586" fill="none" stroke="#000" stroke-width="1"/>
<path d="M151.20,578.50 L157.20,578.50 M161.20,578.50 L187.70,578.50 M120.70,578.50 L147.20,578.50 M110.70,578.50 L116.70,578.50 M80.20,578.50 L106.70,578.50" fill="none" stroke="#000" stroke-width="1"/>
<text transform="translate(156.60,576.30) rotate(180) scale(0.8,1)" x="0" y="10.23" font-family="Liberation Serif, serif" font-size="31" fill="#000" stroke="#fff" stroke-width="0.7" text-anchor="middle">C</text>
<rect x="450.50" y="519.50" width="43.00" height="118.70" fill="none" stroke="#000" stroke-width="1"/>
<line x1="450.50" y1="519.90" x2="493.50" y2="519.90" stroke="#000" stroke-width="1.8" />
<line x1="450.50" y1="637.80" x2="493.50" y2="637.80" stroke="#000" stroke-width="1.8" />
<line x1="450.50" y1="522.50" x2="493.50" y2="522.50" stroke="#000" stroke-width="1" />
<line x1="450.50" y1="528" x2="493.50" y2="528" stroke="#2a2a2a" stroke-width="1"/>
<line x1="450.50" y1="534" x2="493.50" y2="534" stroke="#2a2a2a" stroke-width="1"/>
<line x1="450.50" y1="548.50" x2="493.50" y2="548.50" stroke="#000" stroke-width="1" />
<line x1="450.50" y1="556" x2="493.50" y2="556" stroke="#2a2a2a" stroke-width="1"/>
<line x1="450.50" y1="562" x2="493.50" y2="562" stroke="#2a2a2a" stroke-width="1"/>
<line x1="450.50" y1="570" x2="493.50" y2="570" stroke="#2a2a2a" stroke-width="1"/>
<line x1="450.50" y1="576" x2="493.50" y2="576" stroke="#2a2a2a" stroke-width="1"/>
<line x1="450.50" y1="611" x2="493.50" y2="611" stroke="#2a2a2a" stroke-width="1"/>
<line x1="450.50" y1="616.50" x2="493.50" y2="616.50" stroke="#000" stroke-width="1" />
<line x1="450.50" y1="622.50" x2="493.50" y2="622.50" stroke="#000" stroke-width="1" />
<line x1="450.50" y1="626.50" x2="493.50" y2="626.50" stroke="#000" stroke-width="1" />
<line x1="450.50" y1="630.50" x2="493.50" y2="630.50" stroke="#000" stroke-width="1" />
<line x1="450.50" y1="634.50" x2="493.50" y2="634.50" stroke="#000" stroke-width="1" />
<rect x="493.50" y="527.3" width="6.00" height="103.1" fill="none" stroke="#000" stroke-width="1"/>
<path d="M528.5,568.5 L507.3,568.5 Q506,568.5 506,571 L506,586 Q506,588.5 507.3,588.5 L528.5,588.5 Q530.7,578.5 528.5,568.5" fill="none" stroke="#000" stroke-width="1"/>
<line x1="506.00" y1="570.50" x2="528.50" y2="570.50" stroke="#666" stroke-width="1" />
<line x1="506.00" y1="585.50" x2="528.50" y2="585.50" stroke="#666" stroke-width="1" />
<path d="M506,571 L502.3,571 Q500.1,571 500.1,564.5 M506,586 L502.3,586 Q500.1,586 500.1,592.5" fill="none" stroke="#000" stroke-width="1"/>
<line x1="499.90" y1="565.00" x2="499.90" y2="592.00" stroke="#000" stroke-width="1.2" />
<path d="M499.5,607.5 L530.5,607.5 L530.5,614.4 L499.5,614.4" fill="none" stroke="#000" stroke-width="1"/>
<path d="M450.5,570.4 Q448,570.4 448,573 L448,583.5 Q448,586.3 450.5,586.3" fill="none" stroke="#000" stroke-width="1"/>
<path d="M471.00,578.50 L477.00,578.50 M481.00,578.50 L507.50,578.50 M511.50,578.50 L517.50,578.50 M521.50,578.50 L548.00,578.50 M440.50,578.50 L467.00,578.50" fill="none" stroke="#000" stroke-width="1"/>
<text transform="translate(471.00,595.60) rotate(0) scale(0.78,1)" x="0" y="10.23" font-family="Liberation Serif, serif" font-size="31" fill="#000" stroke="#fff" stroke-width="0.7" text-anchor="middle">A</text>
<text transform="translate(228.90,576.30) rotate(180) scale(0.83,1)" x="0" y="10.23" font-family="Liberation Serif, serif" font-size="31" fill="#000" stroke="#fff" stroke-width="0.7" text-anchor="middle">C</text>
<text transform="translate(307.20,494.50) rotate(-90) scale(0.85,1)" x="0" y="10.89" font-family="Liberation Serif, serif" font-size="33" fill="#000" stroke="#fff" stroke-width="0.7" text-anchor="middle">D</text>
<text transform="translate(301.80,663.20) rotate(96) scale(1.0,1)" x="0" y="10.23" font-family="Liberation Serif, serif" font-size="31" fill="#000" stroke="#fff" stroke-width="0.7" text-anchor="middle">B</text>
<text transform="translate(394.00,601.60) rotate(12) scale(0.86,1)" x="0" y="10.23" font-family="Liberation Serif, serif" font-size="31" fill="#000" stroke="#fff" stroke-width="0.7" text-anchor="middle">A</text>
<path transform="translate(164.80,709.60) rotate(0)" d="M10.99,-12.42 L10.26,-13.97 L8.79,-15.52 L7.33,-16.30 L4.40,-16.30 L2.93,-15.52 L1.47,-13.97 L0.73,-12.42 L0.00,-10.09 L0.00,-6.21 L0.73,-3.88 L1.47,-2.33 L2.93,-0.78 L4.40,0.00 L7.33,0.00 L8.79,-0.78 L10.26,-2.33 L10.99,-3.88 M16.85,-1.55 L16.12,-0.78 L16.85,0.00 L17.58,-0.78 L16.85,-1.55 M33.70,-12.42 L32.97,-13.97 L31.50,-15.52 L30.04,-16.30 L27.11,-16.30 L25.64,-15.52 L24.18,-13.97 L23.44,-12.42 L22.71,-10.09 L22.71,-6.21 L23.44,-3.88 L24.18,-2.33 L25.64,-0.78 L27.11,0.00 L30.04,0.00 L31.50,-0.78 L32.97,-2.33 L33.70,-3.88 M39.56,-1.55 L38.83,-0.78 L39.56,0.00 L40.29,-0.78 L39.56,-1.55 M44.69,-16.30 L48.35,0.00 M52.01,-16.30 L48.35,0.00 M52.01,-16.30 L55.68,0.00 M59.34,-16.30 L55.68,0.00 M64.47,-1.55 L63.73,-0.78 L64.47,0.00 L65.20,-0.78 L64.47,-1.55" fill="none" stroke="#222" stroke-width="1.1" stroke-linecap="round" stroke-linejoin="round"/>
<path transform="translate(248.50,709.60) rotate(0)" d="M0.00,-10.87 L0.00,5.43 M0.00,-8.54 L1.40,-10.09 L2.80,-10.87 L4.91,-10.87 L6.31,-10.09 L7.71,-8.54 L8.41,-6.21 L8.41,-4.66 L7.71,-2.33 L6.31,-0.78 L4.91,0.00 L2.80,0.00 L1.40,-0.78 L0.00,-2.33 M16.12,-10.87 L14.72,-10.09 L13.32,-8.54 L12.62,-6.21 L12.62,-4.66 L13.32,-2.33 L14.72,-0.78 L16.12,0.00 L18.22,0.00 L19.62,-0.78 L21.03,-2.33 L21.73,-4.66 L21.73,-6.21 L21.03,-8.54 L19.62,-10.09 L18.22,-10.87 L16.12,-10.87 M33.64,-8.54 L32.94,-10.09 L30.84,-10.87 L28.74,-10.87 L26.63,-10.09 L25.93,-8.54 L26.63,-6.99 L28.03,-6.21 L31.54,-5.43 L32.94,-4.66 L33.64,-3.10 L33.64,-2.33 L32.94,-0.78 L30.84,0.00 L28.74,0.00 L26.63,-0.78 L25.93,-2.33 M37.85,-16.30 L38.55,-15.52 L39.25,-16.30 L38.55,-17.08 L37.85,-16.30 M38.55,-10.87 L38.55,0.00 M46.26,-16.30 L46.26,-3.10 L46.96,-0.78 L48.36,0.00 L49.76,0.00 M44.15,-10.87 L49.06,-10.87 M53.97,-16.30 L54.67,-15.52 L55.37,-16.30 L54.67,-17.08 L53.97,-16.30 M54.67,-10.87 L54.67,0.00 M63.08,-10.87 L61.68,-10.09 L60.27,-8.54 L59.57,-6.21 L59.57,-4.66 L60.27,-2.33 L61.68,-0.78 L63.08,0.00 L65.18,0.00 L66.58,-0.78 L67.98,-2.33 L68.68,-4.66 L68.68,-6.21 L67.98,-8.54 L66.58,-10.09 L65.18,-10.87 L63.08,-10.87 M74.29,-10.87 L74.29,0.00 M74.29,-7.76 L76.39,-10.09 L77.79,-10.87 L79.90,-10.87 L81.30,-10.09 L82.00,-7.76 L82.00,0.00" fill="none" stroke="#222" stroke-width="1.1" stroke-linecap="round" stroke-linejoin="round"/>
<line x1="220.50" y1="728.50" x2="467.00" y2="728.50" stroke="#000" stroke-width="1" />
<line x1="220.50" y1="822.50" x2="467.00" y2="822.50" stroke="#000" stroke-width="1" />
<line x1="220.50" y1="728.50" x2="220.50" y2="822.50" stroke="#000" stroke-width="1" />
<line x1="467" y1="728.5" x2="467" y2="822.5" stroke="#1a1a1a" stroke-width="1"/>
<line x1="302.50" y1="728.50" x2="302.50" y2="822.50" stroke="#000" stroke-width="1" />
<line x1="425.50" y1="728.50" x2="425.50" y2="822.50" stroke="#000" stroke-width="1" />
<line x1="344" y1="728.5" x2="344" y2="822.5" stroke="#1a1a1a" stroke-width="1"/>
<line x1="385" y1="728.5" x2="385" y2="822.5" stroke="#1a1a1a" stroke-width="1"/>
<line x1="220.50" y1="773.50" x2="467.00" y2="773.50" stroke="#000" stroke-width="1" />
<line x1="220.50" y1="806.50" x2="467.00" y2="806.50" stroke="#000" stroke-width="1" />
<line x1="220.5" y1="757" x2="467" y2="757" stroke="#1a1a1a" stroke-width="1"/>
<line x1="220.5" y1="790" x2="467" y2="790" stroke="#1a1a1a" stroke-width="1"/>
<line x1="220.50" y1="728.50" x2="302.50" y2="757.00" stroke="#000" stroke-width="1" />
<path transform="translate(323.00,743.00) rotate(0) translate(0,5.25)" d="M-1.06,-8.50 L-0.21,-9.00 L1.06,-10.50 L1.06,0.00" fill="none" stroke="#222" stroke-width="0.9" stroke-linecap="round" stroke-linejoin="round"/>
<path transform="translate(364.00,743.00) rotate(0) translate(0,5.25)" d="M-2.55,-8.00 L-2.55,-8.50 L-2.12,-9.50 L-1.70,-10.00 L-0.85,-10.50 L0.85,-10.50 L1.70,-10.00 L2.12,-9.50 L2.55,-8.50 L2.55,-7.50 L2.12,-6.50 L1.27,-5.00 L-2.98,0.00 L2.98,0.00" fill="none" stroke="#222" stroke-width="0.9" stroke-linecap="round" stroke-linejoin="round"/>
<path transform="translate(405.00,743.00) rotate(0) translate(0,5.25)" d="M-2.12,-10.50 L2.55,-10.50 L0.00,-6.50 L1.27,-6.50 L2.12,-6.00 L2.55,-5.50 L2.98,-4.00 L2.98,-3.00 L2.55,-1.50 L1.70,-0.50 L0.42,0.00 L-0.85,0.00 L-2.12,-0.50 L-2.55,-1.00 L-2.98,-2.00" fill="none" stroke="#222" stroke-width="0.9" stroke-linecap="round" stroke-linejoin="round"/>
<path transform="translate(446.20,743.00) rotate(0) translate(0,5.25)" d="M1.06,-10.50 L-3.19,-3.50 L3.19,-3.50 M1.06,-10.50 L1.06,0.00" fill="none" stroke="#222" stroke-width="0.9" stroke-linecap="round" stroke-linejoin="round"/>
<path transform="translate(259.70,765.10) rotate(0) translate(0,5.30)" d="M0.00,-10.60 L-3.23,0.00 M0.00,-10.60 L3.23,0.00 M-2.02,-3.53 L2.02,-3.53" fill="none" stroke="#222" stroke-width="0.9" stroke-linecap="round" stroke-linejoin="round"/>
<path transform="translate(323.00,765.10) rotate(0) translate(0,5.40)" d="M-1.09,-8.74 L-0.22,-9.26 L1.09,-10.80 L1.09,0.00" fill="none" stroke="#222" stroke-width="0.9" stroke-linecap="round" stroke-linejoin="round"/>
<path transform="translate(364.00,765.10) rotate(180) translate(0,5.40)" d="M1.09,-10.80 L-3.28,-3.60 L3.28,-3.60 M1.09,-10.80 L1.09,0.00" fill="none" stroke="#222" stroke-width="0.9" stroke-linecap="round" stroke-linejoin="round"/>
<path transform="translate(405.00,765.10) rotate(0) translate(0,5.40)" d="M-0.44,-10.80 L-1.75,-10.29 L-2.62,-8.74 L-3.06,-6.17 L-3.06,-4.63 L-2.62,-2.06 L-1.75,-0.51 L-0.44,0.00 L0.44,0.00 L1.75,-0.51 L2.62,-2.06 L3.06,-4.63 L3.06,-6.17 L2.62,-8.74 L1.75,-10.29 L0.44,-10.80 L-0.44,-10.80" fill="none" stroke="#222" stroke-width="0.9" stroke-linecap="round" stroke-linejoin="round"/>
<path transform="translate(446.20,765.10) rotate(180) translate(0,5.40)" d="M-1.09,-8.74 L-0.22,-9.26 L1.09,-10.80 L1.09,0.00" fill="none" stroke="#222" stroke-width="0.9" stroke-linecap="round" stroke-linejoin="round"/>
<path transform="translate(259.70,781.80) rotate(0) translate(0,5.30)" d="M-2.83,-10.60 L-2.83,0.00 M-2.83,-10.60 L0.81,-10.60 L2.02,-10.10 L2.42,-9.59 L2.83,-8.58 L2.83,-7.57 L2.42,-6.56 L2.02,-6.06 L0.81,-5.55 M-2.83,-5.55 L0.81,-5.55 L2.02,-5.05 L2.42,-4.54 L2.83,-3.53 L2.83,-2.02 L2.42,-1.01 L2.02,-0.50 L0.81,0.00 L-2.83,0.00" fill="none" stroke="#222" stroke-width="0.9" stroke-linecap="round" stroke-linejoin="round"/>
<path transform="translate(323.00,781.80) rotate(0) translate(0,5.40)" d="M-2.62,-8.23 L-2.62,-8.74 L-2.19,-9.77 L-1.75,-10.29 L-0.87,-10.80 L0.87,-10.80 L1.75,-10.29 L2.19,-9.77 L2.62,-8.74 L2.62,-7.71 L2.19,-6.69 L1.31,-5.14 L-3.06,0.00 L3.06,0.00" fill="none" stroke="#222" stroke-width="0.9" stroke-linecap="round" stroke-linejoin="round"/>
<path transform="translate(364.00,781.80) rotate(180) translate(0,5.40)" d="M-2.19,-10.80 L2.62,-10.80 L0.00,-6.69 L1.31,-6.69 L2.19,-6.17 L2.62,-5.66 L3.06,-4.11 L3.06,-3.09 L2.62,-1.54 L1.75,-0.51 L0.44,0.00 L-0.87,0.00 L-2.19,-0.51 L-2.62,-1.03 L-3.06,-2.06" fill="none" stroke="#222" stroke-width="0.9" stroke-linecap="round" stroke-linejoin="round"/>
<path transform="translate(405.00,781.80) rotate(0) translate(0,5.40)" d="M-1.09,-8.74 L-0.22,-9.26 L1.09,-10.80 L1.09,0.00" fill="none" stroke="#222" stroke-width="0.9" stroke-linecap="round" stroke-linejoin="round"/>
<path transform="translate(446.20,781.80) rotate(180) translate(0,5.40)" d="M-2.62,-8.23 L-2.62,-8.74 L-2.19,-9.77 L-1.75,-10.29 L-0.87,-10.80 L0.87,-10.80 L1.75,-10.29 L2.19,-9.77 L2.62,-8.74 L2.62,-7.71 L2.19,-6.69 L1.31,-5.14 L-3.06,0.00 L3.06,0.00" fill="none" stroke="#222" stroke-width="0.9" stroke-linecap="round" stroke-linejoin="round"/>
<path transform="translate(259.70,798.20) rotate(0) translate(0,5.30)" d="M3.03,-8.08 L2.62,-9.09 L1.82,-10.10 L1.01,-10.60 L-0.61,-10.60 L-1.41,-10.10 L-2.22,-9.09 L-2.62,-8.08 L-3.03,-6.56 L-3.03,-4.04 L-2.62,-2.52 L-2.22,-1.51 L-1.41,-0.50 L-0.61,0.00 L1.01,0.00 L1.82,-0.50 L2.62,-1.51 L3.03,-2.52" fill="none" stroke="#222" stroke-width="0.9" stroke-linecap="round" stroke-linejoin="round"/>
<path transform="translate(323.00,798.20) rotate(0) translate(0,5.40)" d="M-2.19,-10.80 L2.62,-10.80 L0.00,-6.69 L1.31,-6.69 L2.19,-6.17 L2.62,-5.66 L3.06,-4.11 L3.06,-3.09 L2.62,-1.54 L1.75,-0.51 L0.44,0.00 L-0.87,0.00 L-2.19,-0.51 L-2.62,-1.03 L-3.06,-2.06" fill="none" stroke="#222" stroke-width="0.9" stroke-linecap="round" stroke-linejoin="round"/>
<path transform="translate(364.00,798.20) rotate(180) translate(0,5.40)" d="M-2.62,-8.23 L-2.62,-8.74 L-2.19,-9.77 L-1.75,-10.29 L-0.87,-10.80 L0.87,-10.80 L1.75,-10.29 L2.19,-9.77 L2.62,-8.74 L2.62,-7.71 L2.19,-6.69 L1.31,-5.14 L-3.06,0.00 L3.06,0.00" fill="none" stroke="#222" stroke-width="0.9" stroke-linecap="round" stroke-linejoin="round"/>
<path transform="translate(405.00,798.20) rotate(0) translate(0,5.40)" d="M-2.62,-8.23 L-2.62,-8.74 L-2.19,-9.77 L-1.75,-10.29 L-0.87,-10.80 L0.87,-10.80 L1.75,-10.29 L2.19,-9.77 L2.62,-8.74 L2.62,-7.71 L2.19,-6.69 L1.31,-5.14 L-3.06,0.00 L3.06,0.00" fill="none" stroke="#222" stroke-width="0.9" stroke-linecap="round" stroke-linejoin="round"/>
<path transform="translate(446.20,798.20) rotate(180) translate(0,5.40)" d="M-2.19,-10.80 L2.62,-10.80 L0.00,-6.69 L1.31,-6.69 L2.19,-6.17 L2.62,-5.66 L3.06,-4.11 L3.06,-3.09 L2.62,-1.54 L1.75,-0.51 L0.44,0.00 L-0.87,0.00 L-2.19,-0.51 L-2.62,-1.03 L-3.06,-2.06" fill="none" stroke="#222" stroke-width="0.9" stroke-linecap="round" stroke-linejoin="round"/>
<path transform="translate(259.70,814.50) rotate(0) translate(0,5.30)" d="M-2.83,-10.60 L-2.83,0.00 M-2.83,-10.60 L0.00,-10.60 L1.21,-10.10 L2.02,-9.09 L2.42,-8.08 L2.83,-6.56 L2.83,-4.04 L2.42,-2.52 L2.02,-1.51 L1.21,-0.50 L0.00,0.00 L-2.83,0.00" fill="none" stroke="#222" stroke-width="0.9" stroke-linecap="round" stroke-linejoin="round"/>
<path transform="translate(323.00,814.50) rotate(0) translate(0,5.40)" d="M1.09,-10.80 L-3.28,-3.60 L3.28,-3.60 M1.09,-10.80 L1.09,0.00" fill="none" stroke="#222" stroke-width="0.9" stroke-linecap="round" stroke-linejoin="round"/>
<path transform="translate(364.00,814.50) rotate(180) translate(0,5.40)" d="M-1.09,-8.74 L-0.22,-9.26 L1.09,-10.80 L1.09,0.00" fill="none" stroke="#222" stroke-width="0.9" stroke-linecap="round" stroke-linejoin="round"/>
<path transform="translate(405.00,814.50) rotate(0) translate(0,5.40)" d="M-2.19,-10.80 L2.62,-10.80 L0.00,-6.69 L1.31,-6.69 L2.19,-6.17 L2.62,-5.66 L3.06,-4.11 L3.06,-3.09 L2.62,-1.54 L1.75,-0.51 L0.44,0.00 L-0.87,0.00 L-2.19,-0.51 L-2.62,-1.03 L-3.06,-2.06" fill="none" stroke="#222" stroke-width="0.9" stroke-linecap="round" stroke-linejoin="round"/>
<path transform="translate(446.20,814.50) rotate(180) translate(0,5.40)" d="M1.09,-10.80 L-3.28,-3.60 L3.28,-3.60 M1.09,-10.80 L1.09,0.00" fill="none" stroke="#222" stroke-width="0.9" stroke-linecap="round" stroke-linejoin="round"/>
<path d="M19.50,250.50 L18.50,246.00 L20.50,246.00 Z" fill="#000" stroke="none"/>
<path d="M19.50,282.50 L20.50,287.00 L18.50,287.00 Z" fill="#000" stroke="none"/>
<path d="M82.50,366.50 L78.00,367.50 L78.00,365.50 Z" fill="#000" stroke="none"/>
<path d="M119.50,366.50 L124.00,365.50 L124.00,367.50 Z" fill="#000" stroke="none"/>
<path d="M279.40,127.50 L283.90,126.50 L283.90,128.50 Z" fill="#000" stroke="none"/>
<path d="M328.70,127.50 L324.20,128.50 L324.20,126.50 Z" fill="#000" stroke="none"/>
<path d="M278.20,154.50 L273.70,155.50 L273.70,153.50 Z" fill="#000" stroke="none"/>
<path d="M280.30,154.50 L284.80,153.50 L284.80,155.50 Z" fill="#000" stroke="none"/>
<path d="M191.90,199.50 L192.90,204.00 L190.90,204.00 Z" fill="#000" stroke="none"/>
<path d="M191.90,302.50 L190.90,298.00 L192.90,298.00 Z" fill="#000" stroke="none"/>
<path d="M214.50,279.50 L213.50,275.00 L215.50,275.00 Z" fill="#000" stroke="none"/>
<path d="M214.50,285.50 L215.50,290.00 L213.50,290.00 Z" fill="#000" stroke="none"/>
<path d="M238.90,275.50 L243.40,274.50 L243.40,276.50 Z" fill="#000" stroke="none"/>
<path d="M278.80,275.50 L274.30,276.50 L274.30,274.50 Z" fill="#000" stroke="none"/>
<path d="M248.30,340.50 L243.80,341.50 L243.80,339.50 Z" fill="#000" stroke="none"/>
<path d="M279.20,340.50 L283.70,339.50 L283.70,341.50 Z" fill="#000" stroke="none"/>
<path d="M356.70,191.50 L357.70,196.00 L355.70,196.00 Z" fill="#000" stroke="none"/>
<path d="M356.70,310.50 L355.70,306.00 L357.70,306.00 Z" fill="#000" stroke="none"/>
<path d="M328.70,336.50 L324.20,337.50 L324.20,335.50 Z" fill="#000" stroke="none"/>
<path d="M330.30,336.50 L334.80,335.50 L334.80,337.50 Z" fill="#000" stroke="none"/>
<path d="M285.70,370.50 L290.20,369.50 L290.20,371.50 Z" fill="#000" stroke="none"/>
<path d="M329.00,370.50 L324.50,371.50 L324.50,369.50 Z" fill="#000" stroke="none"/>
</svg>
</body></html>
